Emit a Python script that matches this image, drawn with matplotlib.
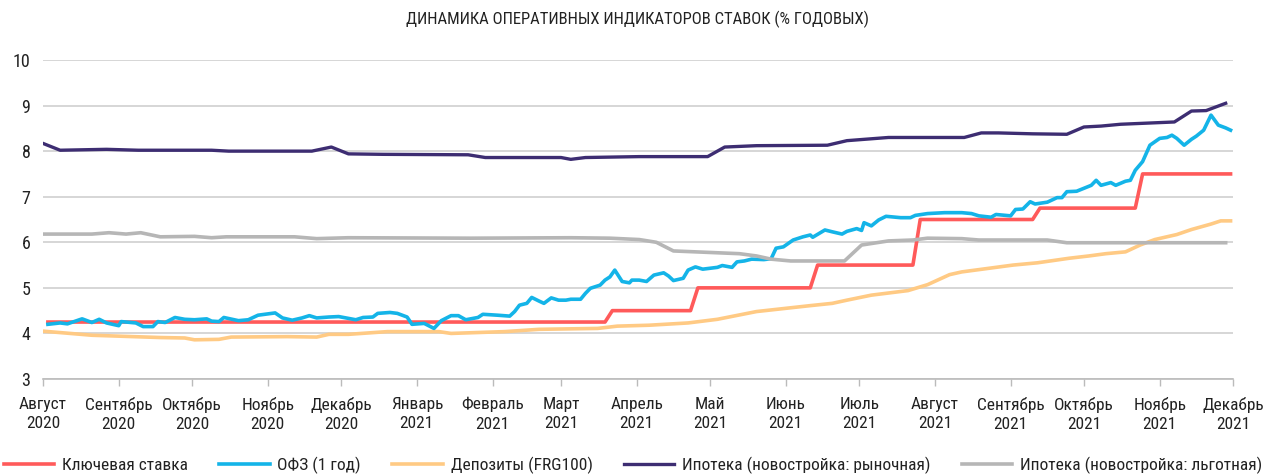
import pandas as pd
import matplotlib
matplotlib.use("Agg")
import matplotlib.pyplot as plt

plt.rcParams['font.family'] = ['Roboto Condensed', 'Liberation Sans Narrow', 'Liberation Sans', 'DejaVu Sans']

title = "ДИНАМИКА ОПЕРАТИВНЫХ ИНДИКАТОРОВ СТАВОК (% ГОДОВЫХ)"

# ключевая ставка
key_dates = ["2020-08-03", "2021-03-19", "2021-03-22", "2021-04-23", "2021-04-26",
             "2021-06-11", "2021-06-14", "2021-07-23", "2021-07-26", "2021-09-10",
             "2021-09-13", "2021-10-22", "2021-10-25", "2021-11-30"]
key_vals = [4.25, 4.25, 4.5, 4.5, 5.0, 5.0, 5.5, 5.5, 6.5, 6.5, 6.75, 6.75, 7.5, 7.5]

# ОФЗ 1 год
ofz_dates = ["2020-08-03", "2020-08-08", "2020-08-11", "2020-08-17", "2020-08-21", "2020-08-24",
             "2020-08-27", "2020-09-01", "2020-09-02", "2020-09-08", "2020-09-11", "2020-09-15",
             "2020-09-17", "2020-09-20", "2020-09-24", "2020-09-28", "2020-10-02", "2020-10-07",
             "2020-10-09", "2020-10-12", "2020-10-14", "2020-10-20", "2020-10-24", "2020-10-28",
             "2020-11-04", "2020-11-07", "2020-11-11", "2020-11-15", "2020-11-18", "2020-11-21",
             "2020-11-26", "2020-11-30", "2020-12-04", "2020-12-07", "2020-12-10", "2020-12-14",
             "2020-12-16", "2020-12-21", "2020-12-24", "2020-12-28", "2020-12-30", "2021-01-04",
             "2021-01-08", "2021-01-11", "2021-01-15", "2021-01-18", "2021-01-21", "2021-01-26",
             "2021-01-28", "2021-02-03", "2021-02-08", "2021-02-10", "2021-02-12", "2021-02-15",
             "2021-02-17", "2021-02-20", "2021-02-22", "2021-02-25", "2021-02-28", "2021-03-03",
             "2021-03-05", "2021-03-09", "2021-03-11", "2021-03-13", "2021-03-17", "2021-03-19",
             "2021-03-21", "2021-03-23", "2021-03-26", "2021-03-29", "2021-03-30", "2021-04-02",
             "2021-04-05", "2021-04-08", "2021-04-12", "2021-04-14", "2021-04-16", "2021-04-20",
             "2021-04-22", "2021-04-25", "2021-04-28", "2021-05-04", "2021-05-06", "2021-05-10",
             "2021-05-12", "2021-05-15", "2021-05-18", "2021-05-23", "2021-05-26", "2021-05-28",
             "2021-05-31", "2021-06-04", "2021-06-08", "2021-06-11", "2021-06-12", "2021-06-17",
             "2021-06-20", "2021-06-24", "2021-06-26", "2021-06-30", "2021-07-02", "2021-07-03",
             "2021-07-06", "2021-07-09", "2021-07-12", "2021-07-18", "2021-07-22", "2021-07-24",
             "2021-07-29", "2021-08-05", "2021-08-12", "2021-08-16", "2021-08-19", "2021-08-24",
             "2021-08-26", "2021-09-01", "2021-09-03", "2021-09-06", "2021-09-09", "2021-09-11",
             "2021-09-16", "2021-09-20", "2021-09-22", "2021-09-24", "2021-09-28", "2021-10-04",
             "2021-10-06", "2021-10-08", "2021-10-12", "2021-10-14", "2021-10-18", "2021-10-20",
             "2021-10-22", "2021-10-25", "2021-10-28", "2021-11-01", "2021-11-04", "2021-11-06",
             "2021-11-08", "2021-11-11", "2021-11-14", "2021-11-16", "2021-11-19", "2021-11-22",
             "2021-11-25", "2021-11-28", "2021-11-30"]
ofz_vals = [4.20, 4.23, 4.21, 4.32, 4.24, 4.31,
            4.23, 4.17, 4.26, 4.23, 4.15, 4.15,
            4.26, 4.24, 4.35, 4.31, 4.30, 4.32,
            4.27, 4.26, 4.35, 4.28, 4.30, 4.40,
            4.45, 4.34, 4.29, 4.34, 4.39, 4.34,
            4.36, 4.37, 4.33, 4.30, 4.35, 4.36,
            4.44, 4.46, 4.44, 4.36, 4.20, 4.22,
            4.11, 4.28, 4.39, 4.39, 4.30, 4.35,
            4.42, 4.40, 4.38, 4.48, 4.62, 4.66,
            4.79, 4.71, 4.66, 4.78, 4.73, 4.73,
            4.75, 4.75, 4.88, 4.99, 5.06, 5.17,
            5.24, 5.39, 5.14, 5.11, 5.17, 5.17,
            5.14, 5.28, 5.33, 5.26, 5.16, 5.21,
            5.39, 5.46, 5.41, 5.45, 5.49, 5.45,
            5.57, 5.59, 5.63, 5.62, 5.64, 5.87,
            5.90, 6.05, 6.12, 6.16, 6.11, 6.27,
            6.23, 6.18, 6.24, 6.30, 6.26, 6.43,
            6.36, 6.49, 6.57, 6.54, 6.54, 6.59,
            6.63, 6.65, 6.65, 6.63, 6.58, 6.55,
            6.61, 6.58, 6.72, 6.73, 6.89, 6.84,
            6.88, 6.98, 6.98, 7.11, 7.12, 7.25,
            7.36, 7.25, 7.31, 7.25, 7.34, 7.36,
            7.58, 7.77, 8.13, 8.28, 8.30, 8.35,
            8.28, 8.13, 8.26, 8.33, 8.46, 8.79,
            8.57, 8.51, 8.46]

# депозиты FRG100
dep_dates = ["2020-08-01", "2020-08-21", "2020-09-18", "2020-09-28", "2020-10-02", "2020-10-12",
             "2020-10-17", "2020-11-09", "2020-11-21", "2020-11-26", "2020-12-04", "2020-12-20",
             "2021-01-10", "2021-01-15", "2021-02-06", "2021-02-20", "2021-03-16", "2021-03-24",
             "2021-04-06", "2021-04-22", "2021-05-04", "2021-05-20", "2021-06-11", "2021-06-20",
             "2021-06-26", "2021-07-06", "2021-07-21", "2021-07-29", "2021-08-07", "2021-08-12",
             "2021-08-19", "2021-09-02", "2021-09-12", "2021-09-25", "2021-10-03", "2021-10-10",
             "2021-10-18", "2021-10-24", "2021-10-30", "2021-11-08", "2021-11-14", "2021-11-22",
             "2021-11-26", "2021-11-30"]
dep_vals = [4.05, 3.96, 3.91, 3.90, 3.86, 3.87,
            3.92, 3.93, 3.92, 3.98, 3.98, 4.04,
            4.04, 4.00, 4.04, 4.09, 4.11, 4.16,
            4.18, 4.23, 4.31, 4.48, 4.61, 4.66,
            4.73, 4.84, 4.94, 5.07, 5.29, 5.35,
            5.40, 5.50, 5.55, 5.65, 5.70, 5.75,
            5.79, 5.94, 6.06, 6.17, 6.28, 6.40,
            6.47, 6.47]

# ипотека, рыночная
mkt_dates = ["2020-08-01", "2020-08-08", "2020-08-27", "2020-09-09", "2020-10-09", "2020-10-16",
             "2020-11-19", "2020-11-27", "2020-12-04", "2020-12-18", "2021-01-22", "2021-01-29",
             "2021-03-01", "2021-03-05", "2021-03-11", "2021-04-02", "2021-04-30", "2021-05-07",
             "2021-05-20", "2021-06-18", "2021-06-26", "2021-07-13", "2021-07-29", "2021-08-13",
             "2021-08-20", "2021-08-27", "2021-09-10", "2021-09-24", "2021-10-01", "2021-10-08",
             "2021-10-16", "2021-11-07", "2021-11-14", "2021-11-20", "2021-11-28"]
mkt_vals = [8.17, 8.02, 8.04, 8.02, 8.02, 8.00,
            8.00, 8.09, 7.94, 7.93, 7.92, 7.86,
            7.86, 7.82, 7.86, 7.88, 7.88, 8.09,
            8.12, 8.13, 8.23, 8.30, 8.30, 8.30,
            8.40, 8.40, 8.38, 8.37, 8.53, 8.55,
            8.59, 8.64, 8.88, 8.89, 9.05]

# ипотека, льготная
pref_dates = ["2020-08-01", "2020-08-21", "2020-08-28", "2020-09-04", "2020-09-10", "2020-09-18",
              "2020-10-02", "2020-10-09", "2020-10-15", "2020-11-12", "2020-11-21", "2020-12-04",
              "2021-01-23", "2021-03-05", "2021-03-21", "2021-04-02", "2021-04-09", "2021-04-16",
              "2021-05-13", "2021-05-20", "2021-05-26", "2021-06-03", "2021-06-25", "2021-07-02",
              "2021-07-13", "2021-07-23", "2021-07-29", "2021-08-12", "2021-08-19", "2021-09-16",
              "2021-09-24", "2021-11-28"]
pref_vals = [6.18, 6.18, 6.21, 6.18, 6.21, 6.12,
             6.13, 6.10, 6.12, 6.12, 6.08, 6.10,
             6.09, 6.10, 6.09, 6.06, 6.00, 5.81,
             5.75, 5.70, 5.63, 5.59, 5.59, 5.94,
             6.03, 6.05, 6.09, 6.08, 6.05, 6.05,
             5.99, 5.99]

months = ["Август", "Сентябрь", "Октябрь", "Ноябрь", "Декабрь", "Январь", "Февраль", "Март",
          "Апрель", "Май", "Июнь", "Июль", "Август", "Сентябрь", "Октябрь", "Ноябрь", "Декабрь"]

fig = plt.figure(figsize=(12.74, 4.76), dpi=100)
ax = fig.add_axes([43 / 1274, 1 - 379 / 476, 1190 / 1274, 319 / 476])

ax.plot(pd.to_datetime(key_dates), key_vals, color="#FF5A5A", lw=2.6, label="Ключевая ставка", zorder=3)
ax.plot(pd.to_datetime(ofz_dates), ofz_vals, color="#14B4E8", lw=2.6, label="ОФЗ (1 год)", zorder=4)
ax.plot(pd.to_datetime(dep_dates), dep_vals, color="#FFCA84", lw=2.6, label="Депозиты (FRG100)", zorder=3)
ax.plot(pd.to_datetime(mkt_dates), mkt_vals, color="#3D2D72", lw=2.4, label="Ипотека (новостройка: рыночная)", zorder=5)
ax.plot(pd.to_datetime(pref_dates), pref_vals, color="#B6B6B6", lw=2.6, label="Ипотека (новостройка: льготная)", zorder=4)

ticks = pd.date_range("2020-08-01", "2021-12-01", freq="MS")
ax.set_xticks(ticks)
ax.set_xticklabels([m + "\n" + str(d.year) for m, d in zip(months, ticks)],
                   fontsize=12.5, color="#222222", linespacing=1.35)
ax.set_xlim(ticks[0], ticks[-1])
ax.set_ylim(3, 10)
ax.set_yticks(range(3, 11))
ax.tick_params(axis="y", length=0, pad=9, labelsize=13, labelcolor="#222222")
ax.tick_params(axis="x", length=5, width=1, color="#BBBBBB", pad=8)
ax.grid(axis="y", color="#D0D0D0", lw=1.2)
ax.set_axisbelow(True)
for s in ["left", "right", "top"]:
    ax.spines[s].set_visible(False)
ax.spines["bottom"].set_color("#BBBBBB")
ax.spines["bottom"].set_linewidth(1.2)

fig.text(0.5, 1 - 19 / 476, title, ha="center", va="center", fontsize=12, color="#222222")

fig.legend(loc="center", bbox_to_anchor=(633 / 1274, 11 / 476), ncol=5, frameon=False,
           fontsize=12.5, handlelength=2.9, columnspacing=1.8, handletextpad=0.45, labelcolor="#222222")

fig.savefig("out.png", dpi=100)
